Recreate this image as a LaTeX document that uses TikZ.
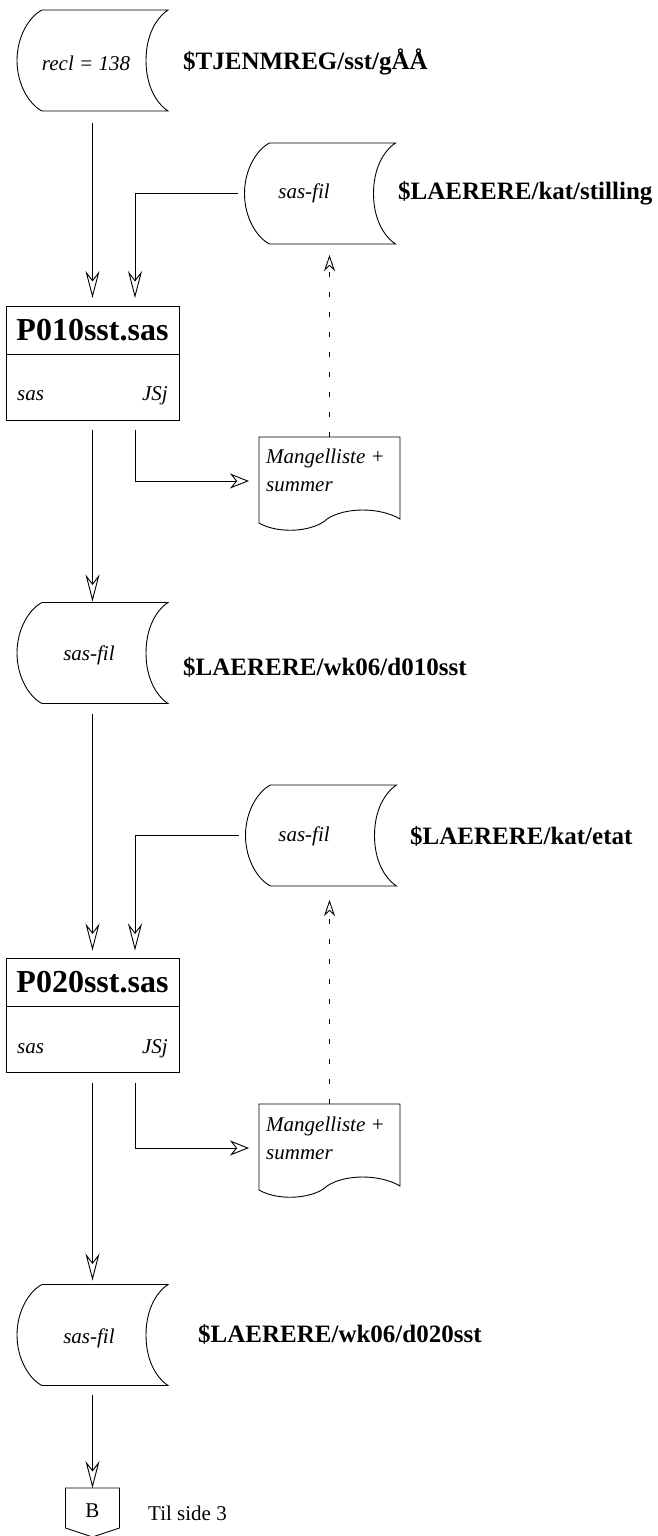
\documentclass[tikz,border=0pt]{standalone}
\usepackage{fontspec}
\setmainfont{Liberation Serif}
\usetikzlibrary{arrows.meta,calc}

\tikzset{
  ln/.style={line width=0.9pt},
  flow/.style={ln, -{Stealth[open,length=27pt,width=14pt,inset=9pt,line width=0.9pt]}},
  sideflow/.style={ln, -{Stealth[open,length=19pt,width=15pt,inset=6pt,line width=0.9pt]}},
  dotflow/.style={ln, dash pattern=on 5pt off 15pt, -{Stealth[open,length=16pt,width=11pt,inset=5pt,line width=0.9pt]}},
  storagebox/.style={minimum width=151pt, minimum height=101pt, inner sep=0pt, outer sep=0pt},
  procbox/.style={draw, ln, minimum width=173pt, minimum height=114pt, inner sep=0pt, outer sep=0pt},
  docbox/.style={minimum width=141pt, minimum height=88pt, inner sep=0pt, outer sep=0pt},
  filelabel/.style={anchor=west, font=\fontsize{25}{30}\selectfont\bfseries, inner sep=0pt},
  titletxt/.style={font=\fontsize{32}{34}\selectfont\bfseries, inner sep=0pt},
  itxt/.style={font=\fontsize{21}{28}\selectfont\itshape, inner sep=0pt},
  rtxt/.style={font=\fontsize{21}{26}\selectfont, inner sep=0pt},
}

\newcommand\drawstorage[1]{%
  \draw[ln] ($(#1.north west)+(25,0)$) -- (#1.north east)
    .. controls +(-12,8) and +(0,-25) .. ($(#1.east)+(-22,0)$)
    .. controls +(0,25) and +(-12,-8) .. (#1.south east)
    -- ($(#1.south west)+(25,0)$)
    .. controls +(-12,-6) and +(0,25) .. (#1.west)
    .. controls +(0,-25) and +(-12,6) .. cycle;}

\newcommand\drawdoc[1]{%
  \draw[ln] (#1.north west) -- (#1.north east) -- ($(#1.north west)+(141,82)$)
    .. controls ($(#1.north west)+(121,70)$) and ($(#1.north west)+(86,70)$) .. ($(#1.north west)+(68,82)$)
    .. controls ($(#1.north west)+(56,94)$) and ($(#1.north west)+(21,98)$) .. ($(#1.north west)+(0,86)$)
    -- cycle;}

\newcommand\drawproc[1]{%
  \draw[ln] ($(#1.north west)+(0,48)$) -- ($(#1.north east)+(0,48)$);}

\begin{document}
\begin{tikzpicture}[x=1pt,y=-1pt]
\fill[white] (0,0) rectangle (657,1536);
\useasboundingbox (0,0) rectangle (657,1536);

% storages
\node[storagebox] (s1) at (92.5,60.5) {};
\drawstorage{s1}
\node[itxt] (s1t) at (86,63) {recl = 138};
\node[filelabel] (s1l) at (183,62) {\$TJENMREG/sst/gÅÅ};

\node[storagebox] (s2) at (320,193.5) {};
\drawstorage{s2}
\node[itxt] (s2t) at (304,193) {sas-fil};
\node[filelabel] (s2l) at (398,193) {\$LAERERE/kat/stilling};

\node[storagebox] (s3) at (92.5,653) {};
\drawstorage{s3}
\node[itxt] (s3t) at (89,655) {sas-fil};
\node[filelabel] (s3l) at (183,667) {\$LAERERE/wk06/d010sst};

\node[storagebox] (s4) at (321,835.5) {};
\drawstorage{s4}
\node[itxt] (s4t) at (304,836) {sas-fil};
\node[filelabel] (s4l) at (410,836) {\$LAERERE/kat/etat};

\node[storagebox] (s5) at (92.5,1335) {};
\drawstorage{s5}
\node[itxt] (s5t) at (89,1338) {sas-fil};
\node[filelabel] (s5l) at (198,1334) {\$LAERERE/wk06/d020sst};

% process boxes
\node[procbox] (p1) at (92.5,363) {};
\drawproc{p1}
\node[titletxt] (p1t) at ($(p1.north)+(0,24)$) {P010sst.sas};
\node[itxt, anchor=west] (p1a) at ($(p1.south west)+(11,-24)$) {sas};
\node[itxt, anchor=east] (p1b) at ($(p1.south east)+(-11,-24)$) {JSj};

\node[procbox] (p2) at (92.5,1015.5) {};
\drawproc{p2}
\node[titletxt] (p2t) at ($(p2.north)+(0,24)$) {P020sst.sas};
\node[itxt, anchor=west] (p2a) at ($(p2.south west)+(11,-24)$) {sas};
\node[itxt, anchor=east] (p2b) at ($(p2.south east)+(-11,-24)$) {JSj};

% documents
\node[docbox] (m1) at (329.5,481) {};
\drawdoc{m1}
\node[itxt, anchor=west, align=left] (m1t) at (266,470) {Mangelliste +\\summer};

\node[docbox] (m2) at (329.5,1148) {};
\drawdoc{m2}
\node[itxt, anchor=west, align=left] (m2t) at (266,1138) {Mangelliste +\\summer};

% off-page connector
\node[minimum width=54pt, minimum height=40pt, inner sep=0pt, outer sep=0pt] (b) at (92.5,1508) {};
\draw[ln] (b.south west) -- (b.north west) -- (b.north east) -- (b.south east) -- ($(b.south)+(0,9)$) -- cycle;
\node[rtxt] (bt) at (92.5,1511) {B};
\node[rtxt, anchor=west] (til) at (148,1513) {Til side 3};

% connectors
\draw[flow, shorten <=12pt, shorten >=8pt] (s1.south) -- (p1.north);
\draw[flow, shorten <=7pt, shorten >=8pt] (s2.west) -| ([xshift=42.5pt]p1.north);
\draw[flow, shorten <=10pt, shorten >=1pt] (p1.south) -- (s3.north);
\draw[sideflow, shorten <=10pt, shorten >=10pt] ([xshift=42.5pt]p1.south) |- (m1.west);
\draw[dotflow, shorten >=11pt] (m1.north) -- (m1.north |- s2.south);

\draw[flow, shorten <=10pt, shorten >=8pt] (s3.south) -- (p2.north);
\draw[flow, shorten <=7pt, shorten >=8pt] (s4.west) -| ([xshift=42.5pt]p2.north);
\draw[flow, shorten <=10pt, shorten >=4pt] (p2.south) -- (s5.north);
\draw[sideflow, shorten <=10pt, shorten >=10pt] ([xshift=42.5pt]p2.south) |- (m2.west);
\draw[dotflow, shorten >=14pt] (m2.north) -- (m2.north |- s4.south);

\draw[flow, shorten <=9pt] (s5.south) -- (b.north);
\end{tikzpicture}
\end{document}
